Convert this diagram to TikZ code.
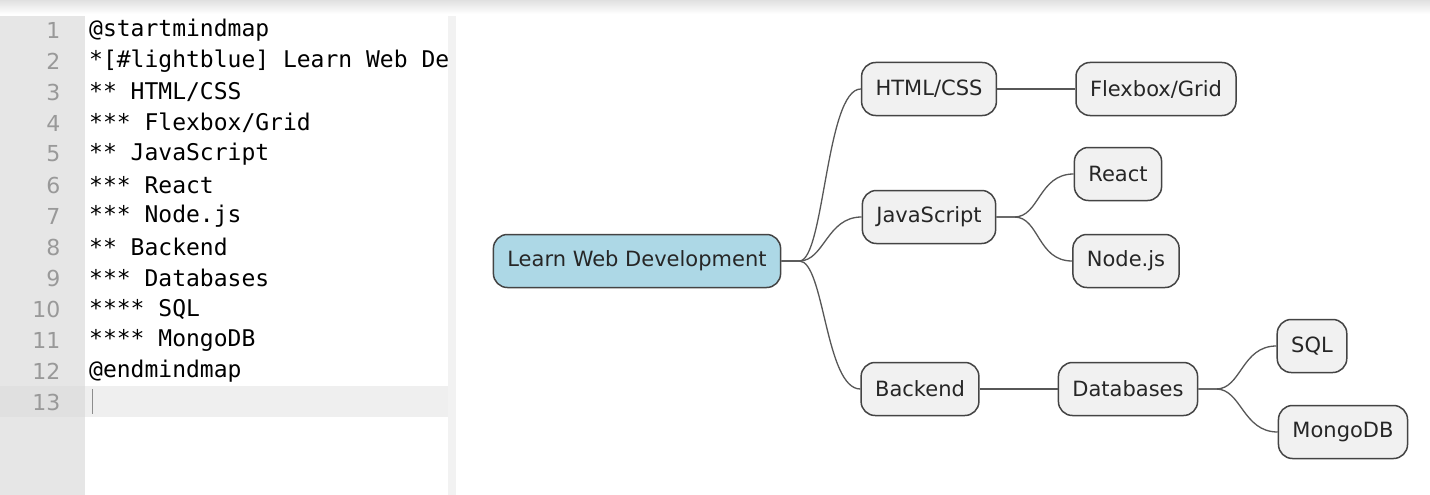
\documentclass[tikz,border=0pt]{standalone}
\usepackage{fontspec}
\setsansfont{DejaVu Sans}
\setmonofont{DejaVu Sans Mono}
\usetikzlibrary{calc}
\definecolor{gutter}{HTML}{E6E6E6}
\definecolor{curline}{HTML}{EFEFEF}
\definecolor{boxfill}{HTML}{F1F1F1}
\definecolor{boxline}{HTML}{444444}
\definecolor{rootfill}{HTML}{ADD8E6}
\tikzset{
  topic/.style={draw=boxline, line width=1.5pt, fill=boxfill, rounded corners=14pt,
    minimum height=53pt, inner xsep=14pt, font=\sffamily\fontsize{21}{21}\selectfont, text=black!85},
  branch/.style={draw=boxline!90, line width=1.3pt},
  lineno/.style={anchor=east, text=black!40, font=\sffamily\fontsize{22}{22}\selectfont},
  codeline/.style={anchor=west, text=black, font=\ttfamily\fontsize{23}{23}\selectfont}
}
\begin{document}
\begin{tikzpicture}[x=1pt, y=-1pt]

  \useasboundingbox (0,0) rectangle (1430,495);
  \fill[white] (0,0) rectangle (1430,495);
  \shade[top color=black!12, bottom color=white] (0,0) rectangle (1430,14);

  % editor
  \fill[gutter] (0,16) rectangle (85,495);
  \fill[black!5] (448,16) rectangle (456,495);
  \fill[curline] (85,386) rectangle (448,417);
  \fill[black!12] (0,386) rectangle (85,417);
  \draw[black!45, line width=1pt] (92,389) -- (92,414);

  \foreach \n/\txt in {1/@startmindmap, 2/*[\#lightblue] Learn Web De, 3/{** HTML/CSS},
      4/{*** Flexbox/Grid}, 5/** JavaScript, 6/*** React, 7/*** Node.js, 8/** Backend,
      9/*** Databases, 10/**** SQL, 11/**** MongoDB, 12/@endmindmap, 13/} {
    \node[lineno] (num\n) at (64, {30+31*(\n-1)}) {\n};
    \node[codeline, inner xsep=0pt] (code\n) at (89, {30+31*(\n-1)}) {\txt};
  }

  % mindmap
  \node[topic, fill=rootfill] (learn) at (637,261) {Learn Web Development};
  \node[topic] (html) at (929,89) {HTML/CSS};
  \node[topic] (flexgrid) at (1156,89) {Flexbox/Grid};
  \node[topic] (js) at (929,217) {JavaScript};
  \node[topic] (react) at (1118,174) {React};
  \node[topic] (nodejs) at (1126,261) {Node.js};
  \node[topic] (backend) at (920,389) {Backend};
  \node[topic] (db) at (1128,389) {Databases};
  \node[topic] (sql) at (1312,346) {SQL};
  \node[topic] (mongo) at (1343,432) {MongoDB};

  \foreach \a/\b in {learn/html, learn/js, learn/backend, js/react, js/nodejs, db/sql, db/mongo}
    \draw[branch] (\a.east) -- ++(18pt,0) .. controls +(25pt,0) and +(-35pt,0) .. (\b.west);
  \draw[branch] (html) -- (flexgrid);
  \draw[branch] (backend) -- (db);

\end{tikzpicture}
\end{document}
